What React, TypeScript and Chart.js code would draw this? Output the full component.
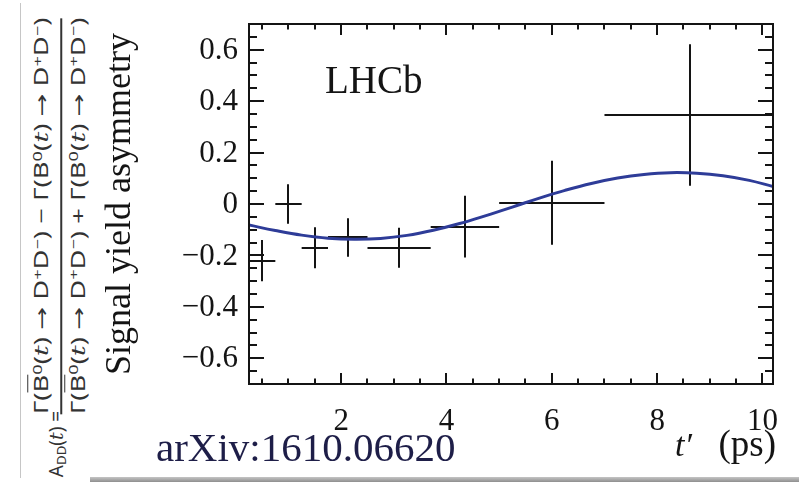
import React, { useEffect, useLayoutEffect, useRef, useState } from 'react';
import { Chart, registerables } from 'chart.js';

Chart.register(...registerables);

// Measured signal-yield asymmetry per decay-time bin
const binTime = [0.5, 1.0, 1.5, 2.13, 3.09, 4.35, 6.0, 8.62];
const binLow = [0.25, 0.75, 1.25, 1.75, 2.5, 3.7, 5.0, 7.0];
const binHigh = [0.75, 1.25, 1.75, 2.5, 3.7, 5.0, 7.0, 12.0];
const asymmetry = [-0.22, 0.0, -0.17, -0.13, -0.17, -0.088, 0.005, 0.346];
const asymmetryErr = [0.08, 0.077, 0.08, 0.075, 0.078, 0.12, 0.163, 0.275];

// Fitted time-dependent asymmetry curve
const fitTime = [0.25, 0.75, 1.25, 1.75, 2.25, 2.75, 3.25, 3.75, 4.25, 4.75, 5.25, 5.75, 6.25, 6.75, 7.25, 7.75, 8.25, 8.75, 9.25, 9.75, 10.2];
const fitValue = [-0.082, -0.103, -0.121, -0.133, -0.137, -0.134, -0.122, -0.102, -0.076, -0.045, -0.012, 0.022, 0.053, 0.08, 0.101, 0.115, 0.122, 0.12, 0.11, 0.092, 0.068];

const xTickValues = [2, 4, 6, 8, 10];
const yTickValues = [-0.6, -0.4, -0.2, 0, 0.2, 0.4, 0.6];
const xMinorStep = 0.5;
const yMinorStep = 0.05;

const INK = '#141414';
const CURVE = '#2e3c98';
const SERIF = '"Liberation Serif", "Times New Roman", serif';

Chart.defaults.font.family = SERIF;

const formatY = (v: number) => (Math.abs(v) < 1e-9 ? '0' : (v < 0 ? '\u2212' : '') + Math.abs(v).toFixed(1));

const errorBarPlugin = {
  id: 'errorBars',
  beforeDatasetsDraw(chart: any) {
    const { ctx, chartArea: a, scales } = chart;
    const x = scales.x;
    const y = scales.y;
    ctx.save();
    ctx.beginPath();
    ctx.rect(a.left, a.top, a.right - a.left, a.bottom - a.top);
    ctx.clip();
    ctx.strokeStyle = INK;
    ctx.lineWidth = 2;
    ctx.beginPath();
    binTime.forEach((t, i) => {
      const px = Math.round(x.getPixelForValue(t));
      const py = Math.round(y.getPixelForValue(asymmetry[i]));
      ctx.moveTo(x.getPixelForValue(binLow[i]), py);
      ctx.lineTo(x.getPixelForValue(binHigh[i]), py);
      ctx.moveTo(px, y.getPixelForValue(asymmetry[i] + asymmetryErr[i]));
      ctx.lineTo(px, y.getPixelForValue(asymmetry[i] - asymmetryErr[i]));
    });
    ctx.stroke();
    ctx.restore();
  },
};

const isMajor = (v: number, list: number[]) => list.some((m) => Math.abs(m - v) < 1e-6);

const framePlugin = {
  id: 'frame',
  afterDraw(chart: any) {
    const { ctx, chartArea: a, scales } = chart;
    const x = scales.x;
    const y = scales.y;
    ctx.save();
    ctx.strokeStyle = INK;
    ctx.lineWidth = 2;
    ctx.strokeRect(a.left, a.top, a.right - a.left, a.bottom - a.top);
    ctx.beginPath();
    for (let k = Math.ceil(x.min / xMinorStep); k * xMinorStep < x.max - 1e-6; k++) {
      const v = k * xMinorStep;
      if (v <= x.min + 1e-6) continue;
      const px = Math.round(x.getPixelForValue(v));
      const len = isMajor(v, xTickValues) ? 11 : 5.5;
      ctx.moveTo(px, a.bottom);
      ctx.lineTo(px, a.bottom - len);
      ctx.moveTo(px, a.top);
      ctx.lineTo(px, a.top + len);
    }
    for (let k = Math.ceil(y.min / yMinorStep - 1e-6); k * yMinorStep < y.max - 1e-6; k++) {
      const v = k * yMinorStep;
      if (v <= y.min + 1e-6) continue;
      const py = Math.round(y.getPixelForValue(v));
      const len = isMajor(v, yTickValues) ? 15 : 8;
      ctx.moveTo(a.left, py);
      ctx.lineTo(a.left + len, py);
      ctx.moveTo(a.right, py);
      ctx.lineTo(a.right - len, py);
    }
    ctx.stroke();

    // tick labels, placed from the scales' own tick values
    ctx.fillStyle = INK;
    ctx.font = `31px ${SERIF}`;
    ctx.textAlign = 'center';
    ctx.textBaseline = 'alphabetic';
    x.ticks.forEach((t: any) => {
      ctx.fillText(String(t.value), x.getPixelForValue(t.value), a.bottom + 46);
    });
    ctx.textAlign = 'right';
    ctx.textBaseline = 'middle';
    y.ticks.forEach((t: any) => {
      ctx.fillText(formatY(t.value), a.left - 11, y.getPixelForValue(t.value) + 1);
    });

    // experiment label
    ctx.textBaseline = 'alphabetic';
    ctx.textAlign = 'left';
    ctx.font = `39px ${SERIF}`;
    ctx.fillText('LHCb', 325, 93);

    // x-axis title: t′ (ps)
    ctx.font = `italic 34px ${SERIF}`;
    ctx.fillText('t\u2032', 675, 456);
    ctx.font = `37px ${SERIF}`;
    ctx.textAlign = 'right';
    ctx.fillText('(ps)', 776, 456);

    // reference
    ctx.textAlign = 'left';
    ctx.fillStyle = '#1e1e48';
    ctx.font = `41px ${SERIF}`;
    ctx.fillText('arXiv:1610.06620', 156, 461);
    ctx.restore();
  },
};

const FORMULA_INK = '#333333';
const FORMULA_FONT = '"Noto Sans", "DejaVu Sans", sans-serif';
const FRACTION_LENGTH = 396;

function Sup({ children }: { children: React.ReactNode }) {
  return <span style={{ fontSize: '0.66em', position: 'relative', top: '-0.5em' }}>{children}</span>;
}

function Rate({ bar }: { bar?: boolean }) {
  return (
    <>
      Γ(<span style={bar ? { textDecoration: 'overline' } : undefined}>B</span>
      <Sup>0</Sup>(<i style={{ fontFamily: '"DejaVu Serif", serif' }}>t</i>) → D<Sup>+</Sup>D<Sup>−</Sup>)
    </>
  );
}

function Formula() {
  const fracRef = useRef<HTMLDivElement>(null);
  const [stretch, setStretch] = useState(1);
  useLayoutEffect(() => {
    const measure = () => {
      const w = fracRef.current ? fracRef.current.offsetWidth : 0;
      if (w > 0) setStretch(FRACTION_LENGTH / w);
    };
    measure();
    if ((document as any).fonts && (document as any).fonts.ready) {
      (document as any).fonts.ready.then(measure);
    }
  }, []);
  const common: React.CSSProperties = {
    position: 'absolute',
    fontFamily: FORMULA_FONT,
    fontSize: 19,
    color: FORMULA_INK,
    whiteSpace: 'nowrap',
    lineHeight: '22px',
  };
  return (
    <>
      <div
        style={{
          ...common,
          left: 57,
          top: 444,
          transform: 'translate(-50%, -50%) rotate(-90deg)',
        }}
      >
        A<span style={{ fontSize: '0.7em', position: 'relative', top: '0.25em' }}>DD</span>(
        <i style={{ fontFamily: '"DejaVu Serif", serif' }}>t</i>) =
      </div>
      <div
        ref={fracRef}
        style={{
          ...common,
          left: 61,
          top: 216,
          transform: `translate(-50%, -50%) rotate(-90deg) scaleX(${stretch})`,
          display: 'flex',
          flexDirection: 'column',
          alignItems: 'center',
        }}
      >
        <div>
          <Rate bar /> − <Rate />
        </div>
        <div style={{ alignSelf: 'stretch', height: 1.5, background: FORMULA_INK, margin: '5px 0' }} />
        <div>
          <Rate bar /> + <Rate />
        </div>
      </div>
    </>
  );
}

export default function App() {
  const canvasRef = useRef<HTMLCanvasElement>(null);

  useEffect(() => {
    if (!canvasRef.current) return;
    const chart = new Chart(canvasRef.current, {
      type: 'scatter',
      data: {
        datasets: [
          {
            label: 'fit',
            data: fitTime.map((t, i) => ({ x: t, y: fitValue[i] })),
            showLine: true,
            borderColor: CURVE,
            borderWidth: 3,
            tension: 0.4,
            pointRadius: 0,
            fill: false,
          },
          {
            label: 'data',
            data: binTime.map((t, i) => ({ x: t, y: asymmetry[i] })),
            pointRadius: 0,
            showLine: false,
          },
        ],
      },
      options: {
        responsive: false,
        animation: false,
        devicePixelRatio: 1,
        layout: { padding: { left: 0, right: 26, top: 24, bottom: 0 } },
        plugins: { legend: { display: false }, tooltip: { enabled: false } },
        scales: {
          x: {
            type: 'linear',
            min: 0.25,
            max: 10.2,
            grid: { display: false, drawTicks: false },
            border: { display: false },
            afterBuildTicks: (s: any) => {
              s.ticks = xTickValues.map((v) => ({ value: v }));
            },
            afterFit: (s: any) => {
              s.height = 98;
            },
            ticks: { display: false, autoSkip: false },
          },
          y: {
            type: 'linear',
            min: -0.7,
            max: 0.7,
            grid: { display: false, drawTicks: false },
            border: { display: false },
            afterBuildTicks: (s: any) => {
              s.ticks = yTickValues.map((v) => ({ value: v }));
            },
            afterFit: (s: any) => {
              s.width = 249;
            },
            ticks: { display: false, autoSkip: false },
            title: {
              display: true,
              text: 'Signal yield asymmetry',
              color: INK,
              font: { family: SERIF, size: 36 },
              padding: { top: 99, bottom: 0 },
            },
          },
        },
      },
      plugins: [errorBarPlugin, framePlugin],
    });
    return () => chart.destroy();
  }, []);

  return (
    <div
      style={{
        position: 'fixed',
        left: 0,
        top: 0,
        width: 799,
        height: 482,
        background: '#ffffff',
        overflow: 'hidden',
      }}
    >
      <div style={{ position: 'absolute', left: 20, top: 3, width: 1, height: 475, background: '#c6c6c6' }} />
      <Formula />
      <div style={{ position: 'absolute', left: 90, top: 477, width: 709, height: 5, background: 'linear-gradient(#c4c4c4, #8f8f8f)' }} />
      <canvas ref={canvasRef} width={799} height={482} style={{ position: 'absolute', left: 0, top: 0 }} />
    </div>
  );
}
